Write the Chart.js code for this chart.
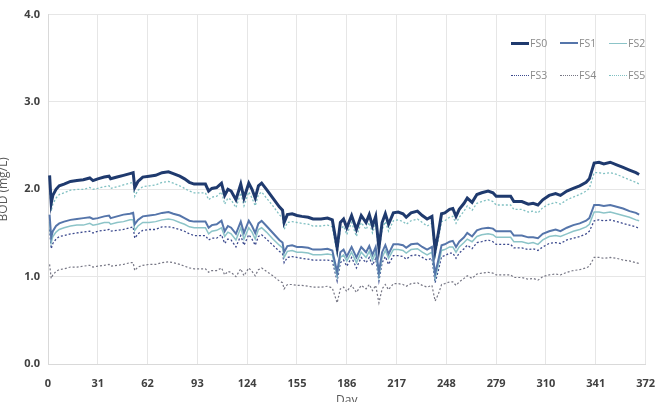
<!DOCTYPE html>
<html>
<head>
<meta charset="utf-8">
<script src="https://cdn.jsdelivr.net/npm/chart.js@4.4.1/dist/chart.umd.min.js"></script>
<style>
  body { margin: 0; background: #fff; }
  #wrap { position: relative; width: 668px; height: 402px; overflow: hidden; }
  #legend { position: absolute; left: 511px; top: 37px; display: grid; grid-template-columns: 49px 49px 49px; row-gap: 20px;
            font-family: "Open Sans", sans-serif; font-size: 10.5px; color: #8a8a8a; }
  .item { display: flex; align-items: center; height: 12px; white-space: nowrap; }
  .swatch { width: 18px; height: 0; margin-right: 1px; }
</style>
</head>
<body>
<div id="wrap">
  <canvas id="grafico" width="668" height="402"></canvas>
  <div id="legend"></div>
</div>
<script>
// dias da simulacao
const days = [1,2,3,5,7,10,14,18,22,26,
  28,31,35,38,39,43,47,51,53,54,
  56,59,63,67,71,75,78,82,85,88,
  91,95,98,100,102,105,108,110,112,114,
  117,120,122,125,127,129,131,133,136,140,
  144,146,147,149,152,155,158,162,165,170,
  174,177,180,182,184,186,189,192,195,198,
  200,202,204,206,208,210,212,215,218,221,
  223,226,230,233,236,239,241,243,245,247,
  250,252,254,256,259,261,264,267,270,274,
  277,279,284,288,290,295,299,302,305,308,
  312,316,319,323,327,331,335,337,340,343,
  346,350,354,358,362,366,368];

// BOD (mg/L) de cada serie
const fs0 = [2.16,1.84,1.93,2.00,2.04,2.06,2.09,2.10,2.11,2.13,
  2.10,2.12,2.14,2.15,2.12,2.14,2.16,2.18,2.19,2.02,
  2.09,2.14,2.15,2.16,2.19,2.20,2.18,2.15,2.12,2.08,
  2.06,2.06,2.06,1.98,2.01,2.02,2.07,1.93,2.00,1.98,
  1.88,2.06,1.90,2.07,2.00,1.90,2.04,2.07,2.00,1.90,
  1.80,1.76,1.62,1.71,1.72,1.70,1.69,1.68,1.66,1.66,
  1.67,1.65,1.33,1.62,1.66,1.56,1.70,1.54,1.70,1.62,
  1.71,1.58,1.69,1.33,1.62,1.72,1.60,1.73,1.74,1.72,
  1.68,1.73,1.75,1.70,1.66,1.69,1.30,1.50,1.72,1.73,
  1.77,1.78,1.69,1.77,1.84,1.90,1.85,1.94,1.96,1.98,
  1.96,1.92,1.92,1.92,1.86,1.86,1.83,1.84,1.82,1.88,
  1.93,1.95,1.93,1.98,2.01,2.04,2.08,2.12,2.30,2.31,
  2.29,2.31,2.28,2.25,2.22,2.19,2.17];

const fs1 = [1.71,1.45,1.52,1.58,1.61,1.63,1.65,1.66,1.67,1.68,
  1.66,1.67,1.69,1.70,1.67,1.69,1.71,1.72,1.73,1.60,
  1.65,1.69,1.70,1.71,1.73,1.74,1.72,1.70,1.67,1.64,
  1.63,1.63,1.63,1.56,1.59,1.60,1.64,1.52,1.58,1.56,
  1.49,1.63,1.50,1.64,1.58,1.50,1.61,1.64,1.58,1.50,
  1.42,1.39,1.28,1.35,1.36,1.34,1.34,1.33,1.31,1.31,
  1.32,1.30,1.05,1.28,1.31,1.23,1.34,1.22,1.34,1.28,
  1.35,1.25,1.34,1.05,1.28,1.36,1.26,1.37,1.37,1.36,
  1.33,1.37,1.38,1.34,1.31,1.34,1.03,1.19,1.36,1.37,
  1.40,1.41,1.34,1.40,1.45,1.50,1.46,1.53,1.55,1.56,
  1.55,1.52,1.52,1.52,1.47,1.47,1.45,1.45,1.44,1.49,
  1.52,1.54,1.52,1.56,1.59,1.61,1.64,1.67,1.82,1.82,
  1.81,1.82,1.80,1.78,1.75,1.73,1.71];

const fs2 = [1.63,1.39,1.46,1.51,1.54,1.56,1.58,1.59,1.59,1.61,
  1.59,1.60,1.62,1.62,1.60,1.62,1.63,1.65,1.65,1.53,
  1.58,1.62,1.62,1.63,1.65,1.66,1.65,1.62,1.60,1.57,
  1.56,1.56,1.56,1.49,1.52,1.53,1.56,1.46,1.51,1.49,
  1.42,1.56,1.43,1.56,1.51,1.43,1.54,1.56,1.51,1.43,
  1.36,1.33,1.22,1.29,1.30,1.28,1.28,1.27,1.25,1.25,
  1.26,1.25,1.00,1.22,1.25,1.18,1.28,1.16,1.28,1.22,
  1.29,1.19,1.28,1.00,1.22,1.30,1.21,1.31,1.31,1.30,
  1.27,1.31,1.32,1.28,1.25,1.28,0.98,1.13,1.30,1.31,
  1.34,1.34,1.28,1.34,1.39,1.43,1.40,1.46,1.48,1.49,
  1.48,1.45,1.45,1.45,1.40,1.40,1.38,1.39,1.37,1.42,
  1.46,1.47,1.46,1.49,1.52,1.54,1.57,1.60,1.74,1.74,
  1.73,1.74,1.72,1.70,1.68,1.65,1.64];

const fs3 = [1.54,1.32,1.38,1.43,1.46,1.47,1.49,1.50,1.51,1.52,
  1.50,1.52,1.53,1.54,1.52,1.53,1.54,1.56,1.57,1.44,
  1.49,1.53,1.54,1.54,1.57,1.57,1.56,1.54,1.52,1.49,
  1.47,1.47,1.47,1.42,1.44,1.44,1.48,1.38,1.43,1.42,
  1.34,1.47,1.36,1.48,1.43,1.36,1.46,1.48,1.43,1.36,
  1.29,1.26,1.16,1.22,1.23,1.22,1.21,1.20,1.19,1.19,
  1.19,1.18,0.95,1.16,1.19,1.12,1.22,1.10,1.22,1.16,
  1.22,1.13,1.21,0.95,1.16,1.23,1.14,1.24,1.24,1.23,
  1.20,1.24,1.25,1.22,1.19,1.21,0.93,1.07,1.23,1.24,
  1.27,1.27,1.21,1.27,1.32,1.36,1.32,1.39,1.40,1.42,
  1.40,1.37,1.37,1.37,1.33,1.33,1.31,1.32,1.30,1.34,
  1.38,1.39,1.38,1.42,1.44,1.46,1.49,1.52,1.64,1.65,
  1.64,1.65,1.63,1.61,1.59,1.57,1.55];

const fs4 = [1.14,0.98,1.02,1.06,1.08,1.09,1.11,1.11,1.12,1.13,
  1.11,1.12,1.13,1.14,1.12,1.13,1.14,1.16,1.16,1.07,
  1.11,1.13,1.14,1.14,1.16,1.17,1.16,1.14,1.12,1.10,
  1.09,1.09,1.09,1.05,1.07,1.07,1.10,1.02,1.06,1.05,
  1.00,1.09,1.01,1.10,1.06,1.01,1.08,1.10,1.06,1.01,
  0.95,0.93,0.86,0.91,0.91,0.90,0.90,0.89,0.88,0.88,
  0.89,0.87,0.70,0.86,0.88,0.83,0.90,0.82,0.90,0.86,
  0.91,0.84,0.90,0.70,0.86,0.91,0.85,0.92,0.92,0.91,
  0.89,0.92,0.93,0.90,0.88,0.90,0.72,0.80,0.91,0.92,
  0.94,0.94,0.90,0.94,0.98,1.01,0.98,1.03,1.04,1.05,
  1.04,1.02,1.02,1.02,0.99,0.99,0.97,0.98,0.96,1.00,
  1.02,1.03,1.02,1.05,1.07,1.08,1.10,1.12,1.22,1.22,
  1.21,1.22,1.21,1.19,1.18,1.16,1.15];

const fs5 = [2.05,1.75,1.83,1.90,1.94,1.96,1.99,2.00,2.00,2.02,
  2.00,2.01,2.03,2.04,2.01,2.03,2.05,2.07,2.08,1.92,
  1.99,2.03,2.04,2.05,2.08,2.09,2.07,2.04,2.01,1.98,
  1.96,1.96,1.96,1.88,1.91,1.92,1.97,1.83,1.90,1.88,
  1.79,1.96,1.81,1.97,1.90,1.81,1.94,1.97,1.90,1.81,
  1.71,1.67,1.54,1.62,1.63,1.62,1.61,1.60,1.58,1.58,
  1.59,1.57,1.26,1.54,1.58,1.48,1.62,1.46,1.62,1.54,
  1.62,1.50,1.61,1.26,1.54,1.63,1.52,1.64,1.65,1.63,
  1.60,1.64,1.66,1.62,1.58,1.61,1.24,1.43,1.63,1.64,
  1.68,1.69,1.61,1.68,1.75,1.81,1.76,1.84,1.86,1.88,
  1.86,1.82,1.82,1.82,1.77,1.77,1.74,1.75,1.73,1.79,
  1.83,1.85,1.83,1.88,1.91,1.94,1.98,2.01,2.19,2.19,
  2.18,2.19,2.17,2.14,2.11,2.08,2.06];

const seriesNames = ['FS0', 'FS1', 'FS2', 'FS3', 'FS4', 'FS5'];
const dayTicks = [0, 31, 62, 93, 124, 155, 186, 217, 248, 279, 310, 341, 372];
const bodTicks = [0, 1, 2, 3, 4];

// estilo de cada linha
const estilos = [
  { cor: '#1f3a6e', largura: 3,   traco: [] },
  { cor: '#5575aa', largura: 2,   traco: [] },
  { cor: '#8cc4c8', largura: 1.5, traco: [] },
  { cor: '#3c4a8e', largura: 1.3, traco: [2, 2] },
  { cor: '#767684', largura: 1.2, traco: [2, 2] },
  { cor: '#80c0c2', largura: 1.3, traco: [2, 2] }
];

const valores = [fs0, fs1, fs2, fs3, fs4, fs5];
const fonte = '"Open Sans", sans-serif';

function criarGrafico(idGrafico) {
  var ctx = document.getElementById(idGrafico).getContext('2d');
  var datasets = seriesNames.map((nome, i) => ({
    label: nome,
    data: days.map((d, j) => ({ x: d, y: valores[i][j] })),
    borderColor: estilos[i].cor,
    borderWidth: estilos[i].largura,
    borderDash: estilos[i].traco,
    pointRadius: 0,
    tension: 0,
    fill: false
  }));

  new Chart(ctx, {
    type: 'line',
    data: { datasets: datasets },
    options: {
      responsive: false,
      animation: false,
      layout: { padding: { top: 12, right: 13, left: 0, bottom: 0 } },
      plugins: { legend: { display: false }, tooltip: { enabled: false } },
      scales: {
        x: {
          type: 'linear',
          min: 0,
          max: 372,
          afterBuildTicks: s => { s.ticks = dayTicks.map(v => ({ value: v })); },
          afterFit: s => { s.height = 38; },
          ticks: { autoSkip: false, maxRotation: 0, padding: 13, color: '#404040',
                   font: { family: fonte, size: 11, weight: 'bold' } },
          grid: { color: '#e6e6e6', drawTicks: false },
          border: { color: '#d9d9d9' },
          title: { display: true, text: 'Day', color: '#595959',
                   font: { family: fonte, size: 12 }, padding: { top: 0, bottom: -6 } }
        },
        y: {
          min: 0,
          max: 4,
          afterBuildTicks: s => { s.ticks = bodTicks.map(v => ({ value: v })); },
          afterFit: s => { s.width = 48; },
          ticks: { padding: 8, color: '#404040', callback: v => v.toFixed(1),
                   font: { family: fonte, size: 11, weight: 'bold' } },
          grid: { color: '#e6e6e6', drawTicks: false },
          border: { color: '#d9d9d9' },
          title: { display: true, text: 'BOD (mg/L)', color: '#595959',
                   font: { family: fonte, size: 12 }, padding: { top: -4, bottom: 0 } }
        }
      }
    }
  });
}

// legenda em html, 3 colunas x 2 linhas
function criarLegenda() {
  var leg = document.getElementById('legend');
  seriesNames.forEach((nome, i) => {
    var item = document.createElement('div');
    item.className = 'item';
    var sw = document.createElement('span');
    sw.className = 'swatch';
    var tipo = estilos[i].traco.length ? 'dotted' : 'solid';
    var larg = estilos[i].traco.length ? 1.5 : estilos[i].largura;
    sw.style.borderTop = larg + 'px ' + tipo + ' ' + estilos[i].cor;
    item.appendChild(sw);
    item.appendChild(document.createTextNode(nome));
    leg.appendChild(item);
  });
}

criarGrafico('grafico');
criarLegenda();
</script>
</body>
</html>
